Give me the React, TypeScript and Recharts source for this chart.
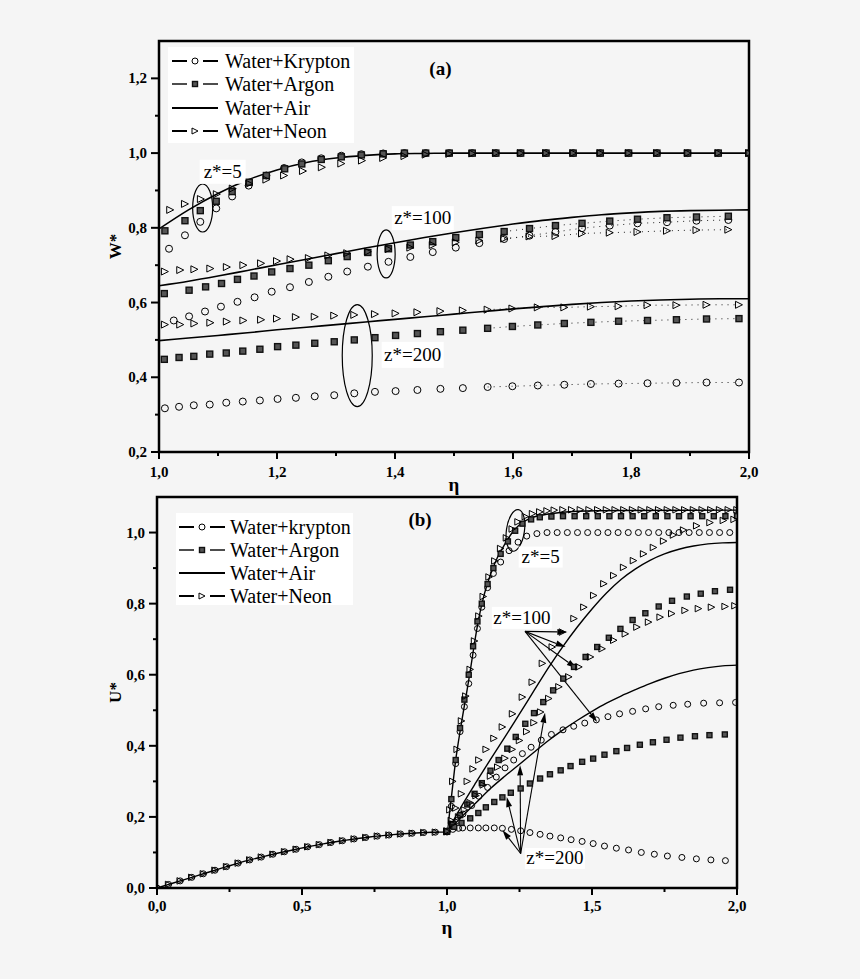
import React from 'react'
import {
  ComposedChart, Line, XAxis, YAxis, ReferenceArea, ReferenceDot, ReferenceLine, Legend,
} from 'recharts'

const FONT = '"Liberation Serif", "Times New Roman", serif'
const BG = '#f5f5f5'

type Pt = [number, number]

// ---------- panel (a): W* vs eta ----------
const etaTicksA = [1.0, 1.1, 1.2, 1.3, 1.4, 1.5, 1.6, 1.7, 1.8, 1.9, 2.0]
const etaMajorA = [1.0, 1.2, 1.4, 1.6, 1.8, 2.0]
const wTicks = [0.2, 0.3, 0.4, 0.5, 0.6, 0.7, 0.8, 0.9, 1.0, 1.1, 1.2]
const wMajor = [0.2, 0.4, 0.6, 0.8, 1.0, 1.2]

const airA5: Pt[] = [[1.0, 0.797], [1.05, 0.848], [1.1, 0.892], [1.15, 0.928], [1.2, 0.955], [1.25, 0.975], [1.3, 0.987], [1.35, 0.994], [1.4, 0.998], [1.45, 0.999], [1.5, 1.0], [1.6, 1.0], [1.7, 1.0], [1.8, 1.0], [1.9, 1.0], [2.0, 1.0]]
const airA100: Pt[] = [[1.0, 0.645], [1.05, 0.657], [1.1, 0.671], [1.15, 0.686], [1.2, 0.701], [1.25, 0.716], [1.3, 0.731], [1.35, 0.746], [1.4, 0.76], [1.45, 0.774], [1.5, 0.787], [1.55, 0.799], [1.6, 0.81], [1.65, 0.82], [1.7, 0.828], [1.75, 0.835], [1.8, 0.84], [1.85, 0.844], [1.9, 0.846], [1.95, 0.847], [2.0, 0.848]]
const airA200: Pt[] = [[1.0, 0.498], [1.05, 0.505], [1.1, 0.512], [1.15, 0.519], [1.2, 0.527], [1.25, 0.534], [1.3, 0.541], [1.35, 0.548], [1.4, 0.555], [1.45, 0.562], [1.5, 0.569], [1.55, 0.576], [1.6, 0.583], [1.65, 0.589], [1.7, 0.595], [1.75, 0.6], [1.8, 0.604], [1.85, 0.607], [1.9, 0.609], [1.95, 0.61], [2.0, 0.61]]

const kryptonA5: Pt[] = [[1.017, 0.744], [1.044, 0.78], [1.07, 0.816], [1.097, 0.852], [1.124, 0.884], [1.152, 0.913], [1.182, 0.94], [1.212, 0.96], [1.242, 0.975], [1.275, 0.986], [1.309, 0.993], [1.343, 0.997], [1.38, 0.999], [1.416, 1.0], [1.452, 1.0], [1.492, 1.0], [1.531, 1.0], [1.571, 1.0], [1.613, 1.0], [1.656, 1.0], [1.702, 1.0], [1.748, 1.0], [1.796, 1.0], [1.844, 1.0], [1.896, 1.0], [1.948, 1.0], [2.0, 1.0]]
const argonA5: Pt[] = [[1.01, 0.792], [1.044, 0.819], [1.07, 0.846], [1.097, 0.871], [1.124, 0.897], [1.153, 0.922], [1.182, 0.94], [1.213, 0.958], [1.242, 0.971], [1.275, 0.983], [1.309, 0.99], [1.343, 0.995], [1.38, 0.998], [1.416, 1.0], [1.452, 1.0], [1.492, 1.0], [1.531, 1.0], [1.571, 1.0], [1.613, 1.0], [1.656, 1.0], [1.702, 1.0], [1.748, 1.0], [1.796, 1.0], [1.844, 1.0], [1.896, 1.0], [1.948, 1.0], [2.0, 1.0]]
const neonA5: Pt[] = [[1.019, 0.848], [1.044, 0.864], [1.071, 0.877], [1.098, 0.89], [1.125, 0.905], [1.153, 0.918], [1.182, 0.929], [1.212, 0.94], [1.244, 0.952], [1.276, 0.962], [1.309, 0.972], [1.344, 0.98], [1.38, 0.987], [1.416, 0.992], [1.452, 0.996], [1.492, 0.998], [1.531, 0.999], [1.571, 1.0], [1.613, 1.0], [1.656, 1.0], [1.702, 1.0], [1.748, 1.0], [1.796, 1.0], [1.844, 1.0], [1.896, 1.0], [1.948, 1.0], [2.0, 1.0]]

const kryptonA100: Pt[] = [[1.025, 0.552], [1.051, 0.563], [1.078, 0.576], [1.105, 0.589], [1.133, 0.602], [1.162, 0.614], [1.191, 0.629], [1.222, 0.641], [1.254, 0.655], [1.287, 0.669], [1.319, 0.683], [1.354, 0.696], [1.389, 0.709], [1.426, 0.722], [1.464, 0.735], [1.503, 0.747], [1.543, 0.759], [1.585, 0.77], [1.628, 0.779], [1.672, 0.789], [1.717, 0.799], [1.764, 0.806], [1.811, 0.812], [1.861, 0.815], [1.911, 0.819], [1.965, 0.821]]
const argonA100: Pt[] = [[1.009, 0.624], [1.051, 0.633], [1.079, 0.642], [1.106, 0.651], [1.133, 0.662], [1.161, 0.671], [1.191, 0.682], [1.222, 0.691], [1.254, 0.7], [1.287, 0.712], [1.319, 0.723], [1.354, 0.734], [1.389, 0.744], [1.426, 0.754], [1.464, 0.763], [1.503, 0.774], [1.543, 0.782], [1.585, 0.79], [1.628, 0.798], [1.672, 0.806], [1.717, 0.812], [1.764, 0.818], [1.811, 0.823], [1.861, 0.827], [1.911, 0.829], [1.965, 0.831]]
const neonA100: Pt[] = [[1.01, 0.683], [1.036, 0.687], [1.06, 0.689], [1.087, 0.691], [1.115, 0.695], [1.143, 0.7], [1.173, 0.705], [1.2, 0.711], [1.223, 0.716], [1.254, 0.719], [1.287, 0.726], [1.319, 0.732], [1.354, 0.736], [1.389, 0.743], [1.426, 0.747], [1.464, 0.754], [1.503, 0.761], [1.543, 0.766], [1.585, 0.771], [1.628, 0.777], [1.672, 0.778], [1.717, 0.785], [1.764, 0.787], [1.811, 0.789], [1.861, 0.792], [1.911, 0.794], [1.965, 0.795]]

const kryptonA200: Pt[] = [[1.01, 0.317], [1.034, 0.321], [1.059, 0.325], [1.086, 0.327], [1.114, 0.332], [1.142, 0.335], [1.171, 0.338], [1.201, 0.342], [1.232, 0.345], [1.264, 0.349], [1.297, 0.352], [1.331, 0.357], [1.366, 0.361], [1.401, 0.363], [1.438, 0.366], [1.477, 0.369], [1.515, 0.371], [1.557, 0.374], [1.599, 0.376], [1.642, 0.378], [1.687, 0.38], [1.732, 0.382], [1.779, 0.383], [1.828, 0.384], [1.877, 0.385], [1.928, 0.386], [1.983, 0.386]]
const argonA200: Pt[] = [[1.009, 0.448], [1.034, 0.453], [1.059, 0.456], [1.086, 0.462], [1.114, 0.465], [1.142, 0.47], [1.171, 0.475], [1.201, 0.482], [1.232, 0.486], [1.264, 0.491], [1.297, 0.495], [1.331, 0.5], [1.366, 0.506], [1.401, 0.512], [1.438, 0.517], [1.477, 0.522], [1.515, 0.526], [1.557, 0.531], [1.599, 0.536], [1.642, 0.54], [1.687, 0.544], [1.732, 0.547], [1.779, 0.55], [1.828, 0.552], [1.877, 0.554], [1.928, 0.556], [1.983, 0.557]]
const neonA200: Pt[] = [[1.01, 0.541], [1.036, 0.541], [1.06, 0.544], [1.087, 0.546], [1.115, 0.549], [1.143, 0.552], [1.173, 0.554], [1.2, 0.557], [1.232, 0.561], [1.264, 0.562], [1.297, 0.565], [1.331, 0.567], [1.366, 0.569], [1.401, 0.571], [1.438, 0.574], [1.477, 0.577], [1.515, 0.579], [1.557, 0.581], [1.599, 0.584], [1.642, 0.587], [1.687, 0.587], [1.732, 0.589], [1.779, 0.59], [1.828, 0.593], [1.877, 0.593], [1.928, 0.594], [1.983, 0.594]]

// ---------- panel (b): U* vs eta ----------
const etaTicksB = [0, 0.25, 0.5, 0.75, 1.0, 1.25, 1.5, 1.75, 2.0]
const etaMajorB = [0, 0.5, 1.0, 1.5, 2.0]
const uTicks = [0, 0.1, 0.2, 0.3, 0.4, 0.5, 0.6, 0.7, 0.8, 0.9, 1.0]
const uMajor = [0, 0.2, 0.4, 0.6, 0.8, 1.0]

// common part for eta < 1 (all mixtures coincide)
const lowB: Pt[] = [[0, 0], [0.04, 0.01], [0.08, 0.02], [0.12, 0.03], [0.16, 0.04], [0.2, 0.05], [0.24, 0.06], [0.28, 0.07], [0.32, 0.079], [0.36, 0.087], [0.4, 0.095], [0.44, 0.102], [0.48, 0.109], [0.52, 0.116], [0.56, 0.122], [0.6, 0.128], [0.64, 0.133], [0.68, 0.138], [0.72, 0.142], [0.76, 0.146], [0.8, 0.149], [0.84, 0.152], [0.88, 0.154], [0.92, 0.156], [0.96, 0.157]]

const airB5: Pt[] = [[1.0, 0.158], [1.01, 0.22], [1.02, 0.29], [1.03, 0.36], [1.04, 0.415], [1.05, 0.465], [1.065, 0.537], [1.08, 0.61], [1.095, 0.69], [1.11, 0.76], [1.125, 0.815], [1.15, 0.882], [1.175, 0.932], [1.2, 0.968], [1.225, 1.0], [1.25, 1.022], [1.29, 1.041], [1.35, 1.052], [1.45, 1.06], [1.6, 1.062], [2.0, 1.063]]
const airB100: Pt[] = [[1.0, 0.158], [1.05, 0.23], [1.1, 0.297], [1.15, 0.362], [1.2, 0.425], [1.25, 0.49], [1.3, 0.555], [1.35, 0.62], [1.4, 0.68], [1.45, 0.735], [1.5, 0.785], [1.55, 0.83], [1.6, 0.868], [1.65, 0.898], [1.7, 0.922], [1.75, 0.94], [1.8, 0.953], [1.85, 0.962], [1.9, 0.968], [1.95, 0.971], [2.0, 0.972]]
const airB200: Pt[] = [[1.0, 0.158], [1.05, 0.2], [1.1, 0.24], [1.15, 0.28], [1.2, 0.315], [1.25, 0.348], [1.3, 0.382], [1.35, 0.415], [1.4, 0.445], [1.45, 0.472], [1.5, 0.497], [1.55, 0.52], [1.6, 0.54], [1.65, 0.558], [1.7, 0.575], [1.75, 0.59], [1.8, 0.603], [1.85, 0.613], [1.9, 0.62], [1.95, 0.625], [2.0, 0.627]]

const kryptonB5: Pt[] = [[1.0, 0.158], [1.015, 0.23], [1.03, 0.35], [1.045, 0.44], [1.06, 0.51], [1.075, 0.575], [1.09, 0.655], [1.105, 0.73], [1.12, 0.79], [1.14, 0.845], [1.16, 0.885], [1.185, 0.917], [1.214, 0.949], [1.245, 0.973], [1.275, 0.99], [1.31, 0.997], [1.345, 1.0], [1.38, 1.0], [1.415, 1.0], [1.45, 1.0], [1.485, 1.0], [1.52, 1.0], [1.555, 1.0], [1.59, 1.0], [1.625, 1.0], [1.66, 1.0], [1.695, 1.0], [1.73, 1.0], [1.765, 1.0], [1.8, 1.0], [1.835, 1.0], [1.87, 1.0], [1.905, 1.0], [1.94, 1.0], [1.975, 1.0]]
const argonB5: Pt[] = [[1.0, 0.158], [1.015, 0.25], [1.03, 0.36], [1.045, 0.45], [1.06, 0.53], [1.075, 0.6], [1.09, 0.68], [1.105, 0.75], [1.12, 0.8], [1.14, 0.855], [1.16, 0.9], [1.185, 0.94], [1.21, 0.975], [1.235, 1.005], [1.26, 1.025], [1.29, 1.037], [1.32, 1.043], [1.36, 1.045], [1.4, 1.046], [1.44, 1.046], [1.48, 1.046], [1.52, 1.046], [1.56, 1.046], [1.6, 1.046], [1.64, 1.046], [1.68, 1.046], [1.72, 1.046], [1.76, 1.046], [1.8, 1.046], [1.84, 1.046], [1.88, 1.046], [1.92, 1.046], [1.96, 1.046], [2.0, 1.046]]
const neonB5: Pt[] = [[1.0, 0.158], [1.01, 0.22], [1.02, 0.3], [1.035, 0.39], [1.05, 0.47], [1.065, 0.54], [1.08, 0.615], [1.095, 0.695], [1.11, 0.765], [1.125, 0.82], [1.145, 0.875], [1.165, 0.92], [1.185, 0.955], [1.205, 0.985], [1.225, 1.01], [1.245, 1.03], [1.27, 1.045], [1.295, 1.053], [1.32, 1.058], [1.345, 1.061], [1.37, 1.063], [1.4, 1.064], [1.43, 1.064], [1.46, 1.064], [1.49, 1.064], [1.52, 1.064], [1.55, 1.064], [1.58, 1.064], [1.61, 1.064], [1.64, 1.064], [1.67, 1.064], [1.7, 1.064], [1.73, 1.064], [1.76, 1.064], [1.79, 1.064], [1.82, 1.064], [1.85, 1.064], [1.88, 1.064], [1.91, 1.064], [1.94, 1.064], [1.97, 1.064], [2.0, 1.064]]

const kryptonB100: Pt[] = [[1.0, 0.16], [1.02, 0.175], [1.035, 0.19], [1.055, 0.208], [1.085, 0.232], [1.11, 0.258], [1.14, 0.283], [1.17, 0.312], [1.2, 0.338], [1.23, 0.36], [1.26, 0.378], [1.29, 0.396], [1.325, 0.416], [1.36, 0.432], [1.4, 0.445], [1.437, 0.455], [1.475, 0.464], [1.515, 0.473], [1.555, 0.482], [1.595, 0.49], [1.64, 0.497], [1.685, 0.504], [1.73, 0.51], [1.78, 0.514], [1.83, 0.517], [1.885, 0.52], [1.94, 0.521], [1.995, 0.522]]
const argonB100: Pt[] = [[1.0, 0.16], [1.02, 0.18], [1.045, 0.205], [1.07, 0.235], [1.095, 0.265], [1.12, 0.295], [1.15, 0.33], [1.178, 0.36], [1.208, 0.392], [1.237, 0.425], [1.27, 0.462], [1.3, 0.492], [1.332, 0.523], [1.366, 0.556], [1.401, 0.589], [1.438, 0.622], [1.478, 0.65], [1.518, 0.678], [1.558, 0.704], [1.598, 0.729], [1.64, 0.754], [1.684, 0.773], [1.73, 0.792], [1.776, 0.808], [1.827, 0.82], [1.875, 0.828], [1.924, 0.835], [1.976, 0.839]]
const neonB100: Pt[] = [[1.0, 0.16], [1.015, 0.19], [1.03, 0.225], [1.05, 0.265], [1.07, 0.3], [1.09, 0.335], [1.11, 0.36], [1.135, 0.39], [1.162, 0.421], [1.191, 0.453], [1.226, 0.49], [1.26, 0.537], [1.294, 0.579], [1.329, 0.632], [1.363, 0.678], [1.398, 0.72], [1.438, 0.758], [1.472, 0.79], [1.506, 0.823], [1.541, 0.856], [1.575, 0.879], [1.609, 0.902], [1.643, 0.921], [1.678, 0.94], [1.712, 0.958], [1.747, 0.976], [1.781, 0.993], [1.816, 1.007], [1.861, 1.019], [1.907, 1.028], [1.953, 1.034], [1.99, 1.037]]

const kryptonB200: Pt[] = [[1.0, 0.158], [1.02, 0.165], [1.04, 0.168], [1.054, 0.169], [1.08, 0.169], [1.108, 0.169], [1.134, 0.169], [1.163, 0.169], [1.191, 0.168], [1.222, 0.165], [1.254, 0.161], [1.286, 0.156], [1.321, 0.151], [1.355, 0.146], [1.392, 0.141], [1.428, 0.136], [1.466, 0.131], [1.504, 0.125], [1.543, 0.118], [1.584, 0.112], [1.626, 0.107], [1.67, 0.1], [1.715, 0.095], [1.76, 0.09], [1.81, 0.086], [1.86, 0.082], [1.91, 0.079], [1.96, 0.077]]
const argonB200: Pt[] = [[1.0, 0.16], [1.025, 0.172], [1.05, 0.183], [1.08, 0.196], [1.108, 0.211], [1.134, 0.227], [1.163, 0.242], [1.191, 0.255], [1.22, 0.268], [1.254, 0.28], [1.286, 0.294], [1.321, 0.308], [1.355, 0.32], [1.392, 0.331], [1.426, 0.343], [1.466, 0.355], [1.504, 0.364], [1.543, 0.375], [1.584, 0.385], [1.621, 0.394], [1.665, 0.403], [1.71, 0.41], [1.757, 0.417], [1.805, 0.423], [1.855, 0.427], [1.905, 0.43], [1.958, 0.432]]
const neonB200: Pt[] = [[1.0, 0.16], [1.02, 0.18], [1.04, 0.2], [1.06, 0.22], [1.08, 0.24], [1.1, 0.26], [1.125, 0.29], [1.15, 0.315], [1.175, 0.34], [1.2, 0.365], [1.225, 0.39], [1.25, 0.415], [1.275, 0.44], [1.3, 0.465], [1.323, 0.495], [1.351, 0.533], [1.386, 0.566], [1.42, 0.594], [1.455, 0.622], [1.495, 0.65], [1.535, 0.673], [1.575, 0.697], [1.615, 0.715], [1.655, 0.734], [1.695, 0.748], [1.735, 0.762], [1.775, 0.772], [1.821, 0.781], [1.867, 0.786], [1.912, 0.79], [1.959, 0.792], [1.993, 0.794]]

// arrow targets in (b)
const arrowFrom100: Pt = [1.269, 0.722]
const arrowTo100: Pt[] = [[1.415, 0.72], [1.409, 0.678], [1.447, 0.618], [1.518, 0.467]]
const arrowFrom200: Pt = [1.254, 0.097]
const arrowTo200: Pt[] = [[1.191, 0.163], [1.206, 0.256], [1.252, 0.345], [1.338, 0.493]]

const legendA = ['Water+Krypton', 'Water+Argon', 'Water+Air', 'Water+Neon']
const legendB = ['Water+krypton', 'Water+Argon', 'Water+Air', 'Water+Neon']

const toData = (pts: Pt[]) => pts.map(([eta, v]) => ({ eta, v }))
const fmt = (v: number) => v.toFixed(1).replace('.', ',')
const isMajor = (list: number[], v: number) => list.some((m) => Math.abs(m - v) < 1e-6)

type Kind = 'o' | 's' | 't'

function Marker({ kind, cx, cy, size }: { kind: Kind; cx: number; cy: number; size: number }) {
  const h = size / 2
  if (kind === 'o') return <circle cx={cx} cy={cy} r={h} fill="none" stroke="#000" strokeWidth={1} />
  if (kind === 's')
    return <rect x={cx - h + 0.5} y={cy - h + 0.5} width={size - 1} height={size - 1} fill="#555" stroke="#111" strokeWidth={1.4} />
  return (
    <polygon
      points={`${cx - h},${cy - h} ${cx + h},${cy} ${cx - h},${cy + h}`}
      fill="none"
      stroke="#000"
      strokeWidth={1}
    />
  )
}

const dotFn = (kind: Kind, size: number) => (p: any) => {
  const key = `${kind}-${p.index}-${p.cx}-${p.cy}`
  if (p.cx == null || p.cy == null) return <g key={key} />
  return <Marker key={key} kind={kind} cx={p.cx} cy={p.cy} size={size} />
}

const xTick = (majors: number[], dy: number) => (p: any) => {
  const v = p.payload.value
  const major = isMajor(majors, v)
  return (
    <g>
      <line x1={p.x} x2={p.x} y1={p.y} y2={p.y + (major ? 7 : 4)} stroke="#000" strokeWidth={2} />
      {major && (
        <text x={p.x} y={p.y + dy} textAnchor="middle" fontFamily={FONT} fontWeight="bold" fontSize={15} fill="#000">
          {fmt(v)}
        </text>
      )}
    </g>
  )
}

const yTick = (majors: number[]) => (p: any) => {
  const v = p.payload.value
  const major = isMajor(majors, v)
  return (
    <g>
      <line x1={p.x} x2={p.x - (major ? 8 : 4)} y1={p.y} y2={p.y} stroke="#000" strokeWidth={2} />
      {major && (
        <text x={p.x - 12} y={p.y + 5} textAnchor="end" fontFamily={FONT} fontWeight="bold" fontSize={15} fill="#000">
          {fmt(v)}
        </text>
      )}
    </g>
  )
}

const yLabel = (text: string, x: number) => (p: any) => {
  const vb = p.viewBox
  const cy = vb.y + vb.height / 2
  return (
    <text x={x} y={cy} transform={`rotate(-90, ${x}, ${cy})`} textAnchor="middle" dominantBaseline="middle"
      fontFamily={FONT} fontWeight="bold" fontSize={17} fill="#000">
      {text}
    </text>
  )
}

const boxLabel = (text: string, w: number, h: number) => (p: any) => (
  <g>
    <rect x={p.cx - w / 2} y={p.cy - h / 2} width={w} height={h} fill="#fff" />
    <text x={p.cx} y={p.cy + 6} textAnchor="middle" fontFamily={FONT} fontSize={19} fill="#000">{text}</text>
  </g>
)

const plainLabel = (text: string) => (p: any) => (
  <text x={p.cx} y={p.cy + 6} textAnchor="middle" fontFamily={FONT} fontWeight="bold" fontSize={19} fill="#000">{text}</text>
)

const ellipse = (rx: number, ry: number, rot = 0) => (p: any) => (
  <ellipse cx={p.cx} cy={p.cy} rx={rx} ry={ry} fill="none" stroke="#000" strokeWidth={1.2}
    transform={rot ? `rotate(${rot}, ${p.cx}, ${p.cy})` : undefined} />
)

const arrow = (p: any) => {
  const { x1, y1, x2, y2 } = p
  const a = Math.atan2(y2 - y1, x2 - x1)
  const c = Math.cos(a)
  const s = Math.sin(a)
  const bx = x2 - 10 * c
  const by = y2 - 10 * s
  return (
    <g>
      <line x1={x1} y1={y1} x2={bx} y2={by} stroke="#000" strokeWidth={1.1} />
      <polygon points={`${x2},${y2} ${bx - 3 * s},${by + 3 * c} ${bx + 3 * s},${by - 3 * c}`} fill="#000" />
    </g>
  )
}

function LegendBox({ names, rowH, sampleLeft, gap }: { names: string[]; rowH: number; sampleLeft: number; gap: number }) {
  const sample = (i: number) => {
    const mid = 8
    if (i === 2) return <line x1={0} x2={46} y1={mid} y2={mid} stroke="#000" strokeWidth={2} />
    const kind: Kind = i === 0 ? 'o' : i === 1 ? 's' : 't'
    return (
      <g>
        <line x1={0} x2={15} y1={mid} y2={mid} stroke="#000" strokeWidth={i === 1 ? 1.4 : 2} />
        <line x1={31} x2={46} y1={mid} y2={mid} stroke="#000" strokeWidth={i === 1 ? 1.4 : 2} />
        <Marker kind={kind} cx={23} cy={mid} size={6} />
      </g>
    )
  }
  return (
    <div style={{ background: '#fff', padding: '2px 0', width: '100%', height: '100%', boxSizing: 'border-box' }}>
      {names.map((n, i) => (
        <div key={n} style={{ display: 'flex', alignItems: 'center', height: rowH, paddingLeft: sampleLeft }}>
          <svg width={46} height={16} style={{ display: 'block' }}>{sample(i)}</svg>
          <span style={{ marginLeft: gap, fontFamily: FONT, fontSize: 20, color: '#000', lineHeight: 1 }}>{n}</span>
        </div>
      ))}
    </div>
  )
}

const lineProps = { dataKey: 'v', isAnimationActive: false, activeDot: false as const, legendType: 'none' as const }

function markerSeries(id: string, pts: Pt[], kind: Kind, size: number) {
  return <Line key={id} name={id} data={toData(pts)} stroke="none" dot={dotFn(kind, size)} {...lineProps} />
}

function curve(id: string, pts: Pt[], width: number) {
  return <Line key={id} name={id} data={toData(pts)} stroke="#000" strokeWidth={width} type="monotone" dot={false} {...lineProps} />
}

function dottedTail(id: string, pts: Pt[]) {
  return (
    <Line key={id} name={id} data={toData(pts.filter(([e]) => e >= 1.55))} stroke="#222" strokeWidth={1}
      strokeDasharray="1 5" dot={false} {...lineProps} />
  )
}

function PanelA() {
  return (
    <ComposedChart width={860} height={500} margin={{ top: 41, right: 111, left: 99, bottom: 0 }}>
      <XAxis type="number" dataKey="eta" domain={[1, 2]} ticks={etaTicksA} interval={0} allowDataOverflow
        tickSize={0} tickMargin={0} axisLine={false} tickLine={false} height={48} tick={xTick(etaMajorA, 25)}
        label={{ value: 'η', position: 'insideBottom', offset: 9, fontFamily: FONT, fontWeight: 'bold', fontSize: 19, fill: '#000' }} />
      <YAxis type="number" domain={[0.2, 1.3]} ticks={wTicks} interval={0} allowDataOverflow width={60}
        tickSize={0} tickMargin={0} axisLine={false} tickLine={false} tick={yTick(wMajor)}
        label={{ content: yLabel('W*', 117) }} />
      {dottedTail('tk100', kryptonA100)}
      {dottedTail('ta100', argonA100)}
      {dottedTail('tn100', neonA100)}
      {dottedTail('tk200', kryptonA200)}
      {dottedTail('ta200', argonA200)}
      {dottedTail('tn200', neonA200)}
      {curve('air5', airA5, 1.6)}
      {curve('air100', airA100, 1.6)}
      {curve('air200', airA200, 1.6)}
      {markerSeries('k5', kryptonA5, 'o', 7)}
      {markerSeries('a5', argonA5, 's', 7)}
      {markerSeries('n5', neonA5, 't', 7)}
      {markerSeries('k100', kryptonA100, 'o', 7)}
      {markerSeries('a100', argonA100, 's', 7)}
      {markerSeries('n100', neonA100, 't', 7)}
      {markerSeries('k200', kryptonA200, 'o', 7)}
      {markerSeries('a200', argonA200, 's', 7)}
      {markerSeries('n200', neonA200, 't', 7)}
      <ReferenceDot x={1.074} y={0.853} r={0} shape={ellipse(10, 24)} ifOverflow="visible" />
      <ReferenceDot x={1.385} y={0.73} r={0} shape={ellipse(9, 24)} ifOverflow="visible" />
      <ReferenceDot x={1.336} y={0.458} r={0} shape={ellipse(15, 51)} ifOverflow="visible" />
      <ReferenceDot x={1.108} y={0.95} r={0} shape={boxLabel('z*=5', 46, 24)} ifOverflow="visible" />
      <ReferenceDot x={1.447} y={0.826} r={0} shape={boxLabel('z*=100', 62, 24)} ifOverflow="visible" />
      <ReferenceDot x={1.43} y={0.46} r={0} shape={boxLabel('z*=200', 62, 26)} ifOverflow="visible" />
      <ReferenceDot x={1.477} y={1.225} r={0} shape={plainLabel('(a)')} ifOverflow="visible" />
      <ReferenceArea x1={1} x2={2} y1={0.2} y2={1.3} fill="none" stroke="#000" strokeWidth={2.5} ifOverflow="visible" />
      <Legend layout="vertical" align="center" verticalAlign="middle"
        wrapperStyle={{ left: 168, top: 47, width: 186, height: 96 }}
        content={() => <LegendBox names={legendA} rowH={23.5} sampleLeft={4} gap={7} />} />
    </ComposedChart>
  )
}

function PanelB() {
  return (
    <ComposedChart width={860} height={487} margin={{ top: 5, right: 123, left: 97, bottom: 41 }}>
      <XAxis type="number" dataKey="eta" domain={[0, 2]} ticks={etaTicksB} interval={0} allowDataOverflow
        tickSize={0} tickMargin={0} axisLine={false} tickLine={false} height={50} tick={xTick(etaMajorB, 23)}
        label={{ value: 'η', position: 'insideBottom', offset: 4, fontFamily: FONT, fontWeight: 'bold', fontSize: 19, fill: '#000' }} />
      <YAxis type="number" domain={[0, 1.1]} ticks={uTicks} interval={0} allowDataOverflow width={60}
        tickSize={0} tickMargin={0} axisLine={false} tickLine={false} tick={yTick(uMajor)}
        label={{ content: yLabel('U*', 117) }} />
      {curve('air5', [...lowB, ...airB5], 1.4)}
      {curve('air100', airB100, 1.4)}
      {curve('air200', airB200, 1.4)}
      {markerSeries('k5', [...lowB, ...kryptonB5], 'o', 6)}
      {markerSeries('a5', argonB5, 's', 6)}
      {markerSeries('n5', [...lowB, ...neonB5], 't', 6.5)}
      {markerSeries('k100', kryptonB100, 'o', 6)}
      {markerSeries('a100', argonB100, 's', 6)}
      {markerSeries('n100', neonB100, 't', 6.5)}
      {markerSeries('k200', kryptonB200, 'o', 6)}
      {markerSeries('a200', argonB200, 's', 6)}
      {markerSeries('n200', neonB200, 't', 6.5)}
      {arrowTo100.map(([x, y], i) => (
        <ReferenceLine key={`a100-${i}`} segment={[{ x: arrowFrom100[0], y: arrowFrom100[1] }, { x, y }]} shape={arrow} ifOverflow="visible" />
      ))}
      {arrowTo200.map(([x, y], i) => (
        <ReferenceLine key={`a200-${i}`} segment={[{ x: arrowFrom200[0], y: arrowFrom200[1] }, { x, y }]} shape={arrow} ifOverflow="visible" />
      ))}
      <ReferenceDot x={1.236} y={1.006} r={0} shape={ellipse(9, 21, 8)} ifOverflow="visible" />
      <ReferenceDot x={1.323} y={0.931} r={0} shape={boxLabel('z*=5', 44, 21)} ifOverflow="visible" />
      <ReferenceDot x={1.258} y={0.76} r={0} shape={boxLabel('z*=100', 60, 22)} ifOverflow="visible" />
      <ReferenceDot x={1.372} y={0.083} r={0} shape={boxLabel('z*=200', 60, 21)} ifOverflow="visible" />
      <ReferenceDot x={0.907} y={1.034} r={0} shape={plainLabel('(b)')} ifOverflow="visible" />
      <ReferenceArea x1={0} x2={2} y1={0} y2={1.1} fill="none" stroke="#000" strokeWidth={2.5} ifOverflow="visible" />
      <Legend layout="vertical" align="center" verticalAlign="middle"
        wrapperStyle={{ left: 176, top: 21, width: 177, height: 92 }}
        content={() => <LegendBox names={legendB} rowH={23} sampleLeft={3} gap={5} />} />
    </ComposedChart>
  )
}

export default function App() {
  return (
    <div style={{ position: 'absolute', left: 0, top: 0, width: 860, height: 979, background: BG, overflow: 'hidden' }}>
      <div style={{ position: 'absolute', left: 0, top: 0 }}>
        <PanelA />
      </div>
      <div style={{ position: 'absolute', left: 0, top: 492 }}>
        <PanelB />
      </div>
    </div>
  )
}
